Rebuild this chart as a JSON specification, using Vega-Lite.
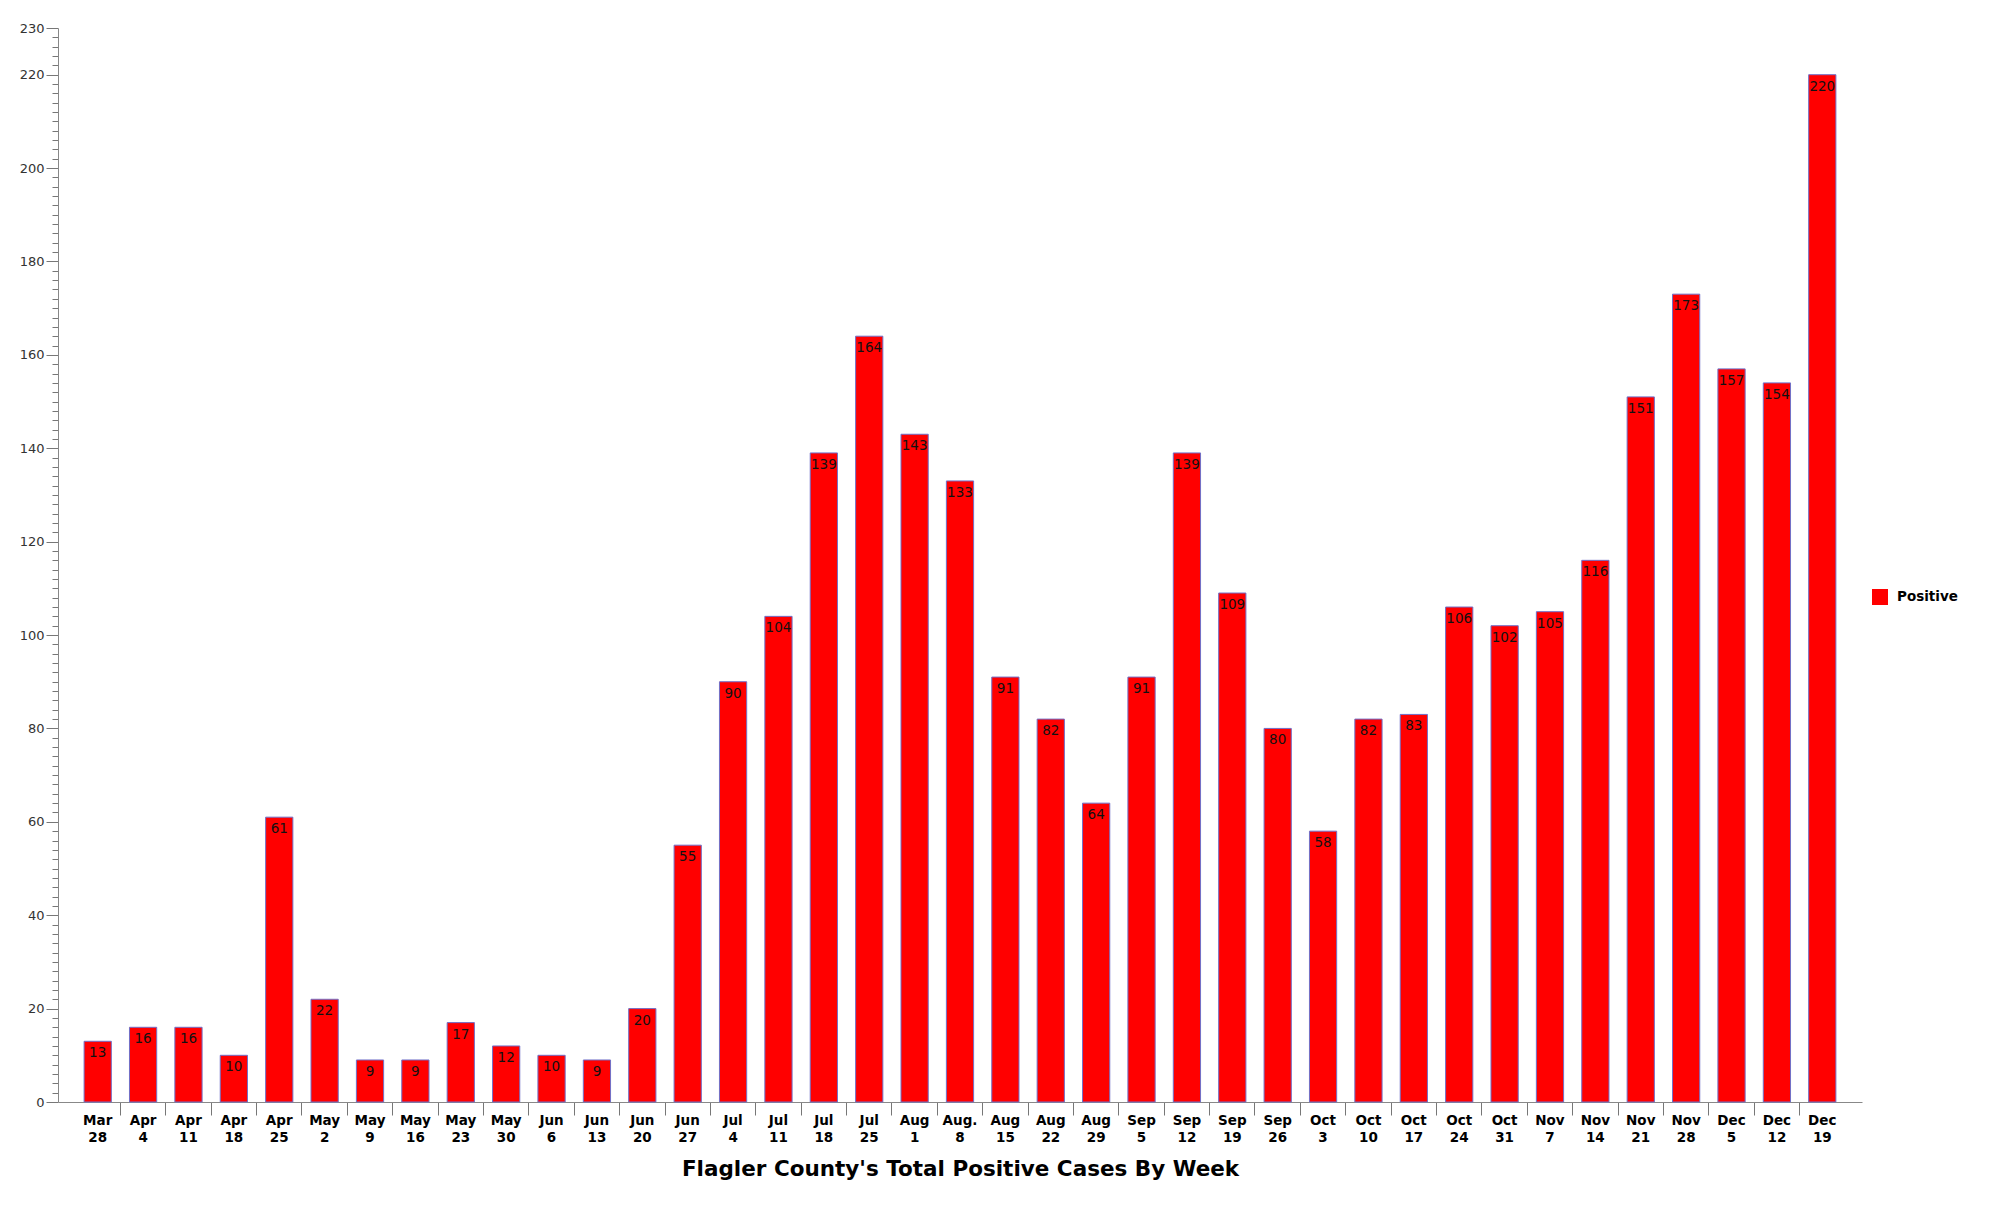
{
  "$schema": "https://vega.github.io/schema/vega-lite/v6.json",
  "autosize": {"type": "none"},
  "width": 1804,
  "height": 1074,
  "padding": {"left": 58, "top": 28, "right": 138, "bottom": 105},
  "background": "white",
  "config": {"view": {"stroke": null}, "font": "DejaVu Sans"},
  "data": {
    "values": [
      {"Week": "Mar 28", "Cases": 13, "Series": "Positive"},
      {"Week": "Apr 4", "Cases": 16, "Series": "Positive"},
      {"Week": "Apr 11", "Cases": 16, "Series": "Positive"},
      {"Week": "Apr 18", "Cases": 10, "Series": "Positive"},
      {"Week": "Apr 25", "Cases": 61, "Series": "Positive"},
      {"Week": "May 2", "Cases": 22, "Series": "Positive"},
      {"Week": "May 9", "Cases": 9, "Series": "Positive"},
      {"Week": "May 16", "Cases": 9, "Series": "Positive"},
      {"Week": "May 23", "Cases": 17, "Series": "Positive"},
      {"Week": "May 30", "Cases": 12, "Series": "Positive"},
      {"Week": "Jun 6", "Cases": 10, "Series": "Positive"},
      {"Week": "Jun 13", "Cases": 9, "Series": "Positive"},
      {"Week": "Jun 20", "Cases": 20, "Series": "Positive"},
      {"Week": "Jun 27", "Cases": 55, "Series": "Positive"},
      {"Week": "Jul 4", "Cases": 90, "Series": "Positive"},
      {"Week": "Jul 11", "Cases": 104, "Series": "Positive"},
      {"Week": "Jul 18", "Cases": 139, "Series": "Positive"},
      {"Week": "Jul 25", "Cases": 164, "Series": "Positive"},
      {"Week": "Aug 1", "Cases": 143, "Series": "Positive"},
      {"Week": "Aug. 8", "Cases": 133, "Series": "Positive"},
      {"Week": "Aug 15", "Cases": 91, "Series": "Positive"},
      {"Week": "Aug 22", "Cases": 82, "Series": "Positive"},
      {"Week": "Aug 29", "Cases": 64, "Series": "Positive"},
      {"Week": "Sep 5", "Cases": 91, "Series": "Positive"},
      {"Week": "Sep 12", "Cases": 139, "Series": "Positive"},
      {"Week": "Sep 19", "Cases": 109, "Series": "Positive"},
      {"Week": "Sep 26", "Cases": 80, "Series": "Positive"},
      {"Week": "Oct 3", "Cases": 58, "Series": "Positive"},
      {"Week": "Oct 10", "Cases": 82, "Series": "Positive"},
      {"Week": "Oct 17", "Cases": 83, "Series": "Positive"},
      {"Week": "Oct 24", "Cases": 106, "Series": "Positive"},
      {"Week": "Oct 31", "Cases": 102, "Series": "Positive"},
      {"Week": "Nov 7", "Cases": 105, "Series": "Positive"},
      {"Week": "Nov 14", "Cases": 116, "Series": "Positive"},
      {"Week": "Nov 21", "Cases": 151, "Series": "Positive"},
      {"Week": "Nov 28", "Cases": 173, "Series": "Positive"},
      {"Week": "Dec 5", "Cases": 157, "Series": "Positive"},
      {"Week": "Dec 12", "Cases": 154, "Series": "Positive"},
      {"Week": "Dec 19", "Cases": 220, "Series": "Positive"}
    ]
  },
  "encoding": {
    "x": {
      "field": "Week",
      "type": "nominal",
      "sort": null,
      "scale": {"paddingInner": 0, "paddingOuter": 0.375},
      "axis": {
        "title": "Flagler County's Total Positive Cases By Week",
        "titleFont": "DejaVu Sans",
        "titleFontSize": 21.5,
        "titleFontWeight": "bold",
        "titleColor": "#000000",
        "titlePadding": 14,
        "labelAngle": 0,
        "labelExpr": "split(datum.label, ' ')",
        "labelFont": "DejaVu Sans",
        "labelFontWeight": "bold",
        "labelFontSize": 13.5,
        "labelColor": "#000000",
        "labelLineHeight": 17.5,
        "labelPadding": -2,
        "labelOverlap": false,
        "labelBound": false,
        "bandPosition": 0,
        "tickSize": 13,
        "tickWidth": 1,
        "tickColor": {"condition": {"test": "datum.value === 'Mar 28'", "value": "transparent"}, "value": "#777777"},
        "domainColor": "#888888",
        "domainWidth": 1
      }
    },
    "y": {
      "field": "Cases",
      "type": "quantitative",
      "scale": {"domain": [0, 230], "nice": false},
      "axis": {
        "title": null,
        "values": [0,2,4,6,8,10,12,14,16,18,20,22,24,26,28,30,32,34,36,38,40,42,44,46,48,50,52,54,56,58,60,62,64,66,68,70,72,74,76,78,80,82,84,86,88,90,92,94,96,98,100,102,104,106,108,110,112,114,116,118,120,122,124,126,128,130,132,134,136,138,140,142,144,146,148,150,152,154,156,158,160,162,164,166,168,170,172,174,176,178,180,182,184,186,188,190,192,194,196,198,200,202,204,206,208,210,212,214,216,218,220,222,224,226,228,230],
        "labelExpr": "(datum.value % 20 === 0 || datum.value === 230) ? datum.label : ''",
        "labelOverlap": false,
        "labelBound": false,
        "labelFlush": false,
        "labelFont": "DejaVu Sans",
        "labelFontSize": 13,
        "labelColor": "#333333",
        "labelPadding": 2,
        "tickSize": {"condition": {"test": "datum.value % 20 === 0 || datum.value === 230", "value": 12}, "value": 6},
        "tickColor": "#777777",
        "tickWidth": 1,
        "domainColor": "#888888",
        "domainWidth": 1,
        "grid": false
      }
    }
  },
  "layer": [
    {
      "mark": {"type": "bar", "width": {"band": 0.6}, "stroke": "#7070c8", "strokeWidth": 1},
      "encoding": {
        "color": {
          "field": "Series",
          "type": "nominal",
          "scale": {"range": ["#ff0000"]},
          "legend": {
            "title": null,
            "orient": "none",
            "legendX": 1814,
            "legendY": 561,
            "symbolType": "square",
            "symbolSize": 256,
            "symbolStrokeWidth": 0,
            "labelFont": "DejaVu Sans",
            "labelFontSize": 13.5,
            "labelFontWeight": "bold",
            "labelColor": "#000000",
            "labelOffset": 9
          }
        }
      }
    },
    {
      "mark": {"type": "text", "baseline": "top", "align": "center", "dy": 5, "fontSize": 13.5, "font": "DejaVu Sans"},
      "encoding": {
        "text": {"field": "Cases", "type": "quantitative"},
        "color": {"value": "#111111"},
        "fontWeight": {
          "condition": {"test": "indexOf(['Mar 28','Apr 4','Apr 11','Apr 18','Apr 25','May 2','May 9','May 16','May 23','May 30','Jun 6','Jun 13','Jun 20','Jun 27'], datum.Week) >= 0", "value": "bold"},
          "value": "normal"
        }
      }
    }
  ]
}
